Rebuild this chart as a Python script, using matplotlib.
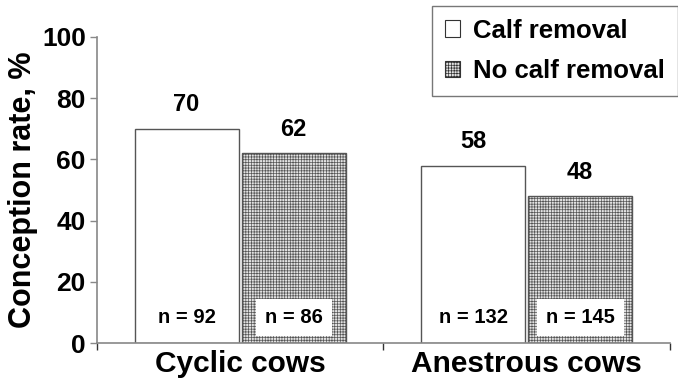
import matplotlib
matplotlib.use("Agg")
import matplotlib.pyplot as plt
from matplotlib.patches import Patch
import numpy as np

groups = ["Cyclic cows", "Anestrous cows"]
series = ["Calf removal", "No calf removal"]
calf_removal = [70, 58]
no_calf_removal = [62, 48]
n_calf_removal = ["n = 92", "n = 132"]
n_no_calf_removal = ["n = 86", "n = 145"]
yticks = [0, 20, 40, 60, 80, 100]

plt.rcParams['font.family'] = ['Liberation Sans', 'DejaVu Sans']
plt.rcParams['font.weight'] = 'bold'
plt.rcParams['hatch.color'] = '#c4c4c4'
plt.rcParams['hatch.linewidth'] = 0.5

fig = plt.figure(figsize=(6.78, 3.89), dpi=100)
ax = fig.add_axes([0.143, 0.118, 0.845, 0.787])

x = np.arange(len(groups))
w = 0.363
off = 0.187
gray = '#888888'
fill2 = '#e2e2e2'

b1 = ax.bar(x - off, calf_removal, w, facecolor='white', edgecolor='#555555', linewidth=1.0)
b2 = ax.bar(x + off, no_calf_removal, w, facecolor=fill2, edgecolor='#555555',
            linewidth=1.0, hatch='++++++')

for bars, vals, ns in [(b1, calf_removal, n_calf_removal), (b2, no_calf_removal, n_no_calf_removal)]:
    for rect, v, nlab in zip(bars, vals, ns):
        cx = rect.get_x() + rect.get_width() / 2
        ax.annotate(str(v), (cx, v), xytext=(0, 9), textcoords='offset points',
                    ha='center', va='bottom', fontsize=17, fontweight='bold')
        ax.text(cx, 8.5, nlab, ha='center', va='center', fontsize=14.5, fontweight='bold',
                bbox=dict(facecolor='white', edgecolor='none', boxstyle='square,pad=0.45'))

ax.set_xlim(-0.5, 1.5)
ax.set_ylim(0, 100)
ax.set_yticks(yticks)
ax.set_yticklabels([str(t) for t in yticks], fontsize=19, fontweight='bold')
ax.set_xticks(x)
ax.set_xticklabels(groups, fontsize=21.5, fontweight='bold')
ax.set_xticks([-0.5, 0.5, 1.5], minor=True)
ax.tick_params(axis='x', which='major', length=0, pad=5)
ax.tick_params(axis='x', which='minor', length=5, color='#333333', width=1)
ax.tick_params(axis='y', length=5, color=gray, width=1, pad=3)
ax.set_ylabel("Conception rate, %", fontsize=22, fontweight='bold', labelpad=3)

for s in ['top', 'right']:
    ax.spines[s].set_visible(False)
for s in ['left', 'bottom']:
    ax.spines[s].set_color(gray)
    ax.spines[s].set_linewidth(1.2)

handles = [Patch(facecolor='white', edgecolor='#333333', linewidth=0.8, label=series[0]),
           Patch(facecolor=fill2, edgecolor='#333333', linewidth=0.8, hatch='++++++', label=series[1])]
leg = fig.legend(handles=handles, loc='upper right', bbox_to_anchor=(1.0, 0.985),
                 fontsize=18.5, frameon=True, fancybox=False, handlelength=0.6,
                 handleheight=0.6, handletextpad=0.5, borderpad=0.5, labelspacing=0.65,
                 borderaxespad=0)
leg.get_frame().set_edgecolor('#555555')
leg.get_frame().set_linewidth(1.0)
for t in leg.get_texts():
    t.set_fontweight('bold')

fig.savefig("out.png", dpi=100)
